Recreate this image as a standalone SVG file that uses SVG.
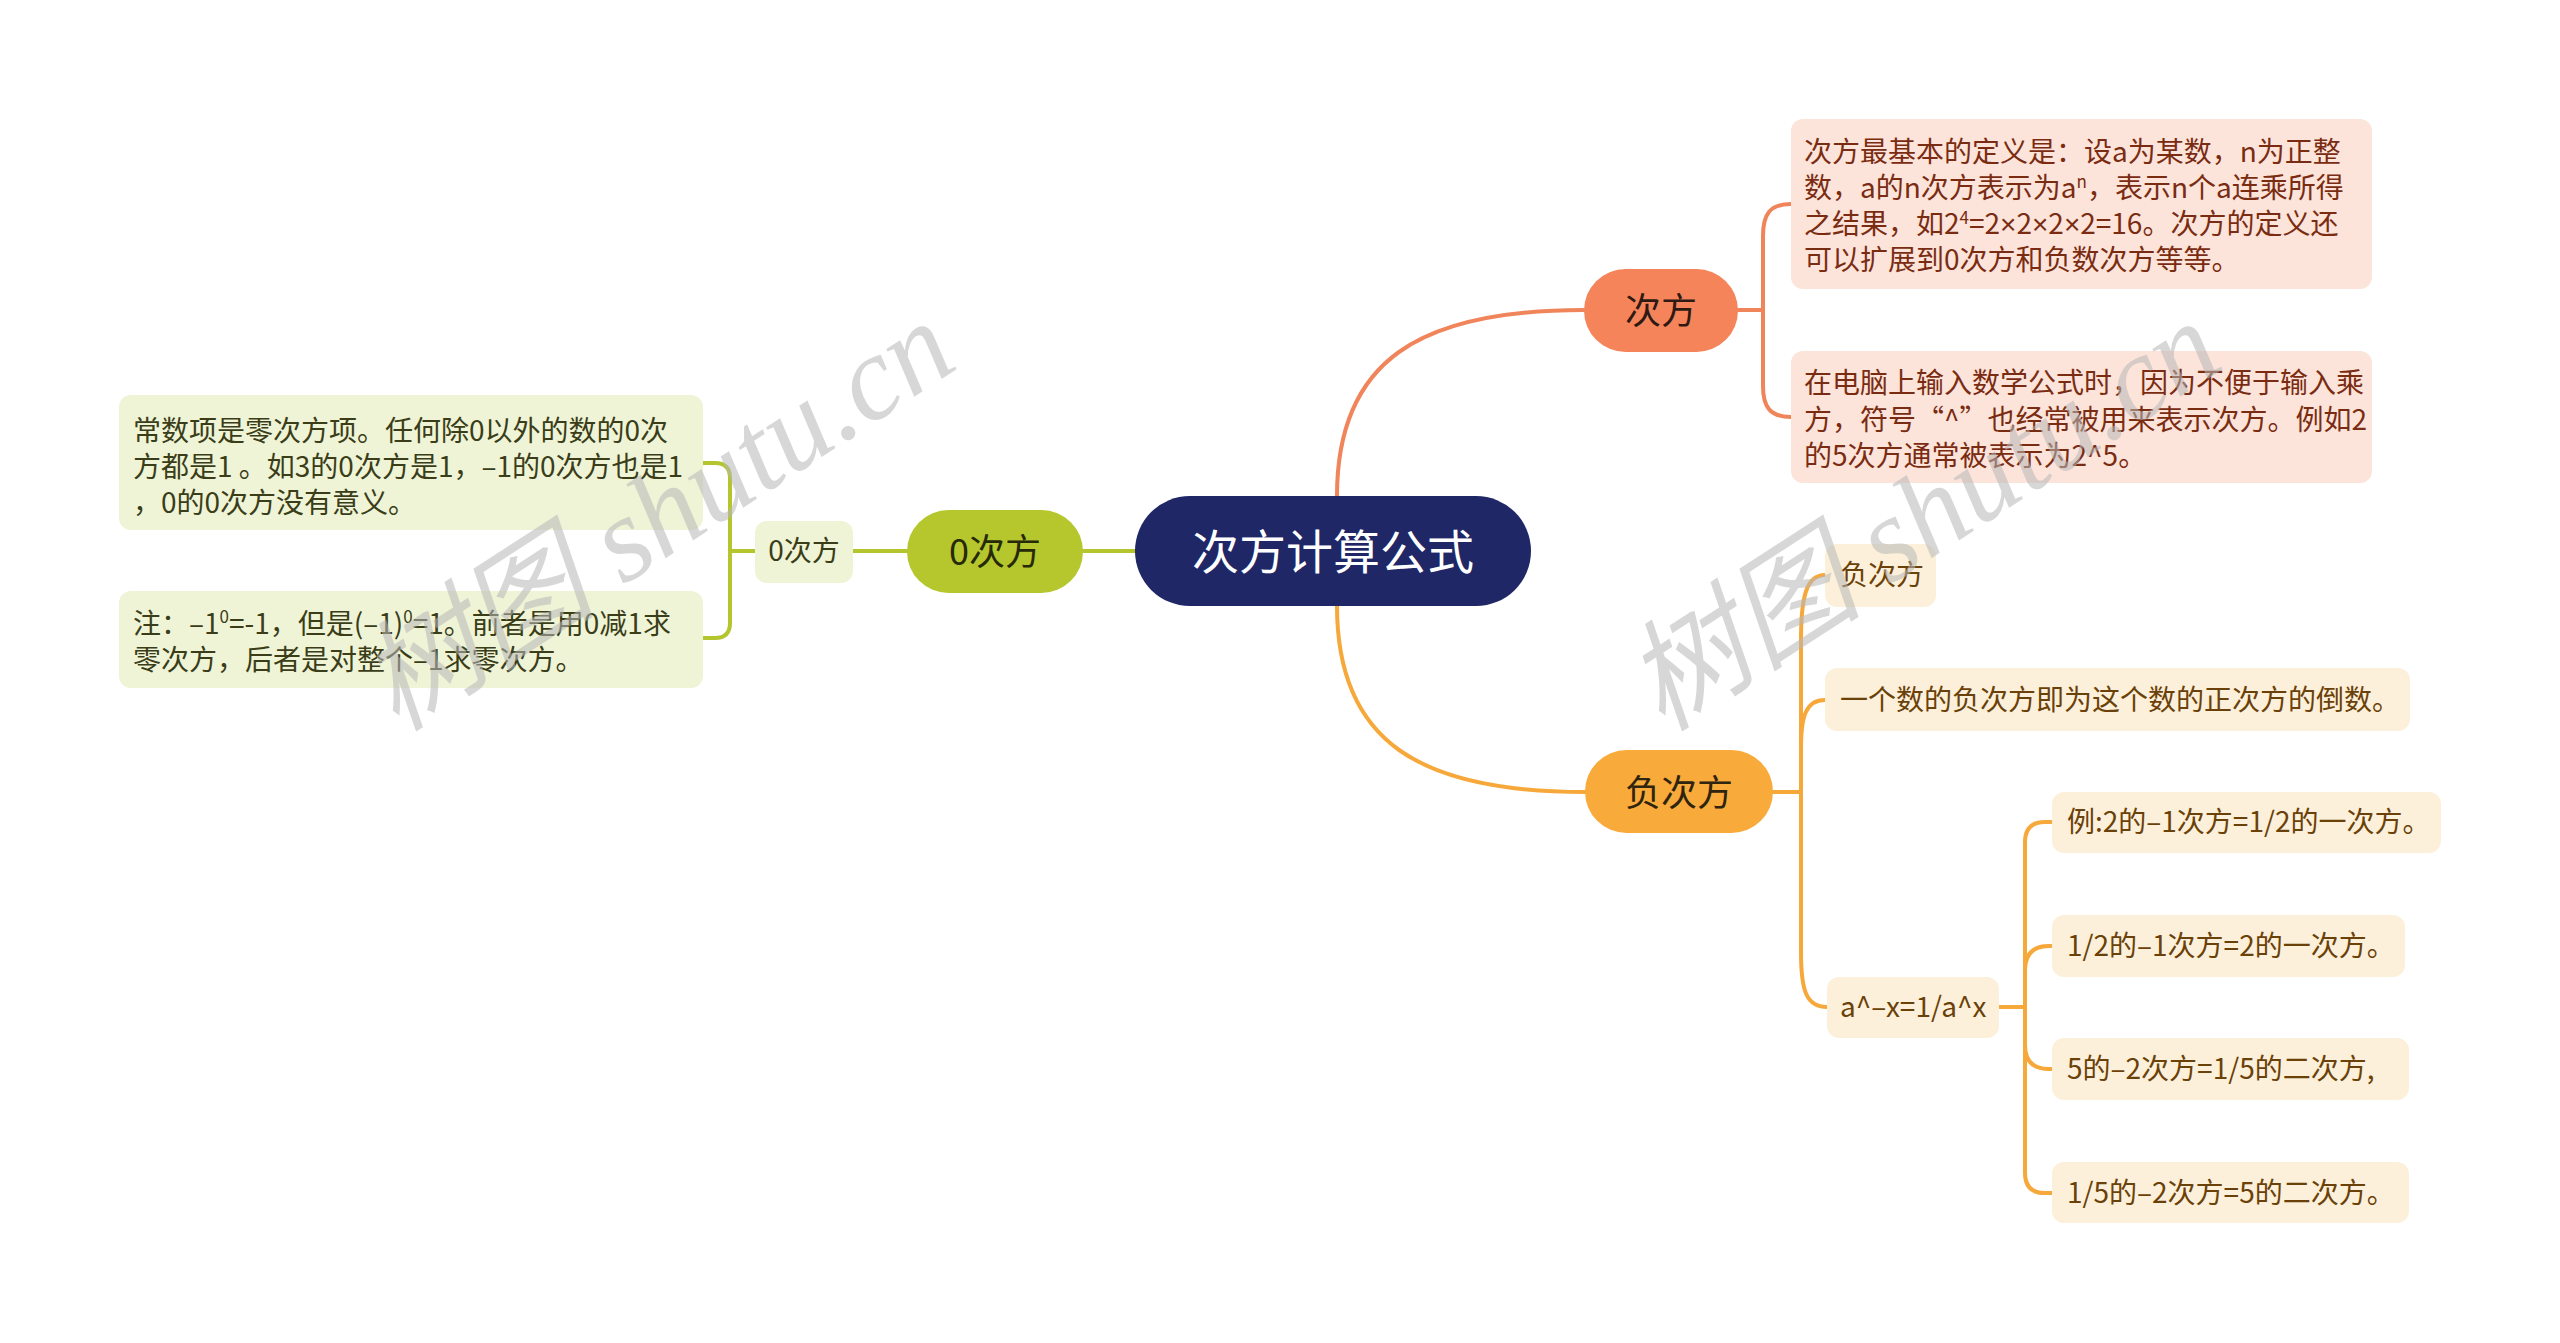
<svg xmlns="http://www.w3.org/2000/svg" width="2560" height="1343" viewBox="0 0 2560 1343">
<style>
text{font-family:"Noto Sans CJK SC","Noto Sans",sans-serif;}
.c{fill:none;stroke-width:4;stroke-linecap:round;stroke-linejoin:round;}
.co{stroke:#f0845a;}
.cy{stroke:#f6a83a;}
.cg{stroke:#b4c52e;}
.t27{font-size:28px;}
.red{fill:#7a2c12;}
.brn{fill:#6a4108;}
.grn{fill:#3a3d18;}
.lat{font-family:"Liberation Sans","Noto Sans",sans-serif;}
.wm{font-family:"Liberation Serif","Noto Sans CJK SC",serif;font-style:italic;font-size:120px;fill:#b8b8b8;opacity:0.55;}
</style>
<rect width="2560" height="1343" fill="#ffffff"/>

<g id="connectors">
  <path class="c co" d="M1337 496 C1337 360 1420 310 1584 310"/>
  <path class="c cy" d="M1337 606 C1337 742 1420 792 1585 792"/>
  <path class="c cg" d="M1140 551 H1080"/>
  <path class="c co" d="M1738 310 H1763"/>
  <path class="c co" d="M1763 310 V236 C1763 214 1770 204 1791 204"/>
  <path class="c co" d="M1763 310 V386 C1763 407 1770 417 1791 417"/>
  <path class="c cy" d="M1773 792 H1801"/>
  <path class="c cy" d="M1801 792 V640 C1801 598 1806 575 1825 575"/>
  <path class="c cy" d="M1801 792 V748 C1801 716 1806 700 1825 700"/>
  <path class="c cy" d="M1801 792 V952 C1801 990 1806 1007 1827 1007"/>
  <path class="c cy" d="M1999 1007 H2025"/>
  <path class="c cy" d="M2052 822 H2045 Q2025 822 2025 842 V1173 Q2025 1193 2045 1193 H2052"/>
  <path class="c cy" d="M2025 970 Q2025 946 2049 946 H2052"/>
  <path class="c cy" d="M2025 1045 Q2025 1069 2049 1069 H2052"/>
  <path class="c cg" d="M907 551 H853"/>
  <path class="c cg" d="M755 551 H730"/>
  <path class="c cg" d="M703 463 H715 Q730 463 730 478 V623 Q730 638 715 638 H703"/>
</g>

<g id="root">
  <rect x="1135" y="496" width="396" height="110" rx="55" fill="#1f2766"/>
  <text x="1333" y="569" font-size="47" fill="#ffffff" text-anchor="middle">次方计算公式</text>
</g>

<g id="n-cifang">
  <rect x="1584" y="269" width="154" height="83" rx="41.5" fill="#f5845a"/>
  <text x="1661" y="324" font-size="36" fill="#2e1a12" text-anchor="middle">次方</text>
</g>

<g id="n-fucifang">
  <rect x="1585" y="750" width="188" height="83" rx="41.5" fill="#f8aa3a"/>
  <text x="1679" y="806" font-size="36" fill="#2e2410" text-anchor="middle">负次方</text>
</g>

<g id="n-0cifang">
  <rect x="907" y="510" width="176" height="83" rx="41.5" fill="#b5c72d"/>
  <text x="995" y="565" font-size="36" fill="#262a08" text-anchor="middle">0次方</text>
</g>

<g id="c-def">
  <rect x="1791" y="119" width="581" height="170" rx="12" fill="#fde4da"/>
  <text class="t27 red" x="1804" y="162">次方最基本的定义是：设a为某数，n为正整</text>
  <text class="t27 red" x="1804" y="198">数，a的n次方表示为a<tspan font-size="17" dy="-10">n</tspan><tspan dy="10">，表示n个a连乘所得</tspan></text>
  <text class="t27 red" x="1804" y="234">之结果，如2<tspan font-size="17" dy="-10">4</tspan><tspan dy="10">=2</tspan><tspan class="lat">×</tspan>2<tspan class="lat">×</tspan>2<tspan class="lat">×</tspan>2=16。次方的定义还</text>
  <text class="t27 red" x="1804" y="270">可以扩展到0次方和负数次方等等。</text>
</g>

<g id="c-computer">
  <rect x="1791" y="351" width="581" height="132" rx="12" fill="#fde4da"/>
  <text class="t27 red" x="1804" y="393">在电脑上输入数学公式时，因为不便于输入乘</text>
  <text class="t27 red" x="1804" y="430">方，符号“^”也经常被用来表示次方。例如2</text>
  <text class="t27 red" x="1804" y="466">的5次方通常被表示为2^5。</text>
</g>

<g id="c-fu-label">
  <rect x="1825" y="544" width="111" height="63" rx="12" fill="#fdf0da"/>
  <text class="t27 brn" x="1840" y="585">负次方</text>
</g>

<g id="c-fu-def">
  <rect x="1825" y="668" width="585" height="63" rx="12" fill="#fdf0da"/>
  <text class="t27 brn" x="1840" y="710">一个数的负次方即为这个数的正次方的倒数。</text>
</g>

<g id="c-formula">
  <rect x="1827" y="977" width="172" height="61" rx="12" fill="#fdf0da"/>
  <text class="t27 brn" x="1840" y="1017">a^–x=1/a^x</text>
</g>

<g id="c-ex1">
  <rect x="2052" y="792" width="389" height="61" rx="12" fill="#fdf0da"/>
  <text class="t27 brn" x="2067" y="832">例:2的–1次方=1/2的一次方。</text>
</g>
<g id="c-ex2">
  <rect x="2052" y="915" width="353" height="62" rx="12" fill="#fdf0da"/>
  <text class="t27 brn" x="2067" y="956">1/2的–1次方=2的一次方。</text>
</g>
<g id="c-ex3">
  <rect x="2052" y="1038" width="357" height="62" rx="12" fill="#fdf0da"/>
  <text class="t27 brn" x="2067" y="1079">5的–2次方=1/5的二次方,</text>
</g>
<g id="c-ex4">
  <rect x="2052" y="1162" width="357" height="61" rx="12" fill="#fdf0da"/>
  <text class="t27 brn" x="2067" y="1203">1/5的–2次方=5的二次方。</text>
</g>

<g id="c-0label">
  <rect x="755" y="521" width="98" height="62" rx="12" fill="#eff4d6"/>
  <text class="t27 grn" x="804" y="561" text-anchor="middle">0次方</text>
</g>

<g id="c-0def">
  <rect x="119" y="395" width="584" height="135" rx="12" fill="#eff4d6"/>
  <text class="t27 grn" x="133" y="441">常数项是零次方项。任何除0以外的数的0次</text>
  <text class="t27 grn" x="133" y="477">方都是1 。如3的0次方是1，–1的0次方也是1</text>
  <text class="t27 grn" x="133" y="513">，0的0次方没有意义。</text>
</g>

<g id="c-0note">
  <rect x="119" y="591" width="584" height="97" rx="12" fill="#eff4d6"/>
  <text class="t27 grn" x="133" y="634">注：–1<tspan font-size="17" dy="-11">0</tspan><tspan dy="11">=-1，但是(–1)</tspan><tspan font-size="17" dy="-11">0</tspan><tspan dy="11">=1。前者是用0减1求</tspan></text>
  <text class="t27 grn" x="133" y="670">零次方，后者是对整个–1求零次方。</text>
</g>

<g id="watermark">
  <text class="wm" transform="translate(657,516) rotate(-33)" x="0" y="40" text-anchor="middle">树图 shutu.cn</text>
  <text class="wm" transform="translate(1923,516) rotate(-33)" x="0" y="40" text-anchor="middle">树图 shutu.cn</text>
</g>
</svg>
